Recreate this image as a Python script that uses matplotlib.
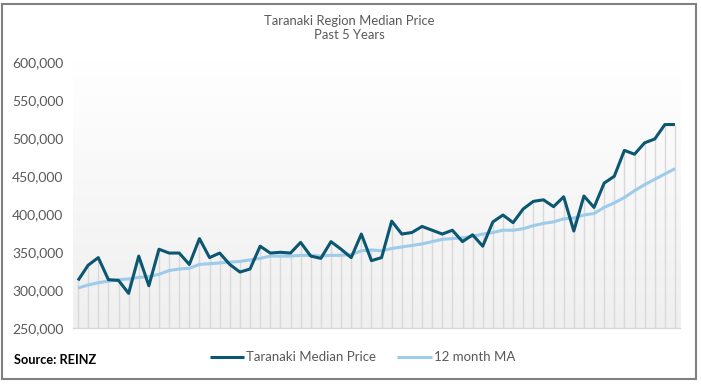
import numpy as np
import matplotlib
matplotlib.use("Agg")
import matplotlib.pyplot as plt
from matplotlib.patches import Rectangle
from matplotlib.ticker import FuncFormatter

# ── Data (in thousands of NZD) ───────────────────────────────────────────────
median_price = [313, 333, 343, 314, 313, 296, 345, 306, 354, 349,
                349, 334, 368, 343, 349, 334, 324, 328, 358, 349,
                350, 349, 363, 345, 342, 364, 354, 343, 374, 339,
                343, 391, 374, 376, 384, 379, 374, 379, 364, 373,
                358, 390, 399, 389, 407, 417, 419, 410, 423, 378,
                424, 409, 441, 450, 484, 479, 494, 499, 518, 518]
moving_avg = [303, 307, 310, 312, 314, 315, 317, 318, 321, 326,
              328, 329, 334, 335, 336, 337, 338, 340, 342, 345,
              345, 345, 346, 346, 345, 346, 346, 347, 352, 353,
              352, 355, 357, 359, 361, 364, 367, 368, 369, 371,
              374, 376, 379, 379, 381, 385, 388, 390, 394, 395,
              399, 401, 409, 415, 422, 431, 439, 446, 453, 460]

median_price = np.array(median_price) * 1000
moving_avg = np.array(moving_avg) * 1000
meses = np.arange(len(median_price))

y_ticks = [250000, 300000, 350000, 400000, 450000, 500000, 550000, 600000]

COR_MEDIANA = "#0b5670"
COR_MEDIA = "#9dcbea"
COR_TEXTO = "#595959"

plt.rcParams["font.family"] = ["Lato", "DejaVu Sans"]

fig = plt.figure(figsize=(7.01, 3.84), dpi=100)
ax = fig.add_axes([0.1041, 0.145, 0.866, 0.693])

# fundo com degradê (branco em cima, cinza claro em baixo)
grad = np.linspace(0, 1, 256).reshape(-1, 1)
cmap = matplotlib.colors.LinearSegmentedColormap.from_list("g", ["#ffffff", "#efefef"])
ax.imshow(grad, aspect="auto", cmap=cmap, extent=(-0.5, 59.5, 250000, 600000),
          origin="upper", zorder=0)

# linhas verticais até ao ponto mais alto
ax.vlines(meses, 250000, np.maximum(median_price, moving_avg),
          color="#d9d9d9", lw=1, zorder=1)

ax.plot(meses, moving_avg, color=COR_MEDIA, lw=2.2, label="12 month MA",
        zorder=3, solid_capstyle="butt")
ax.plot(meses, median_price, color=COR_MEDIANA, lw=2.2, label="Taranaki Median Price",
        zorder=4, solid_capstyle="butt")

ax.set_xlim(-0.5, 59.5)
ax.set_ylim(250000, 600000)
ax.set_yticks(y_ticks)
ax.yaxis.set_major_formatter(FuncFormatter(lambda v, p: f"{int(v):,}"))
ax.tick_params(axis="y", length=0, pad=7, labelsize=10, labelcolor=COR_TEXTO)
ax.set_xticks([])
for lado in ["top", "right", "left"]:
    ax.spines[lado].set_visible(False)
ax.spines["bottom"].set_color("#d9d9d9")
ax.spines["bottom"].set_linewidth(1)

# título
fig.text(0.4986, 0.945, "Taranaki Region Median Price", ha="center", va="center",
         fontsize=9.4, color=COR_TEXTO)
fig.text(0.4986, 0.908, "Past 5 Years", ha="center", va="center",
         fontsize=9.4, color=COR_TEXTO)

# legenda
handles, labels = ax.get_legend_handles_labels()
fig.legend(handles[::-1], labels[::-1], loc="center", bbox_to_anchor=(0.517, 0.070),
           ncol=2, frameon=False, fontsize=9.5, handlelength=2.6, handletextpad=0.15,
           columnspacing=1.6, labelcolor=COR_TEXTO)

fig.text(0.02, 0.0625, "Source: REINZ", ha="left", va="center", fontsize=9.2,
         fontweight="bold", color="black")

# moldura
fig.add_artist(Rectangle((2 / 701, 5 / 384), 694 / 701, 375 / 384, transform=fig.transFigure,
                         fill=False, edgecolor="#808080", lw=1.5))

fig.savefig("out.png", dpi=100)
